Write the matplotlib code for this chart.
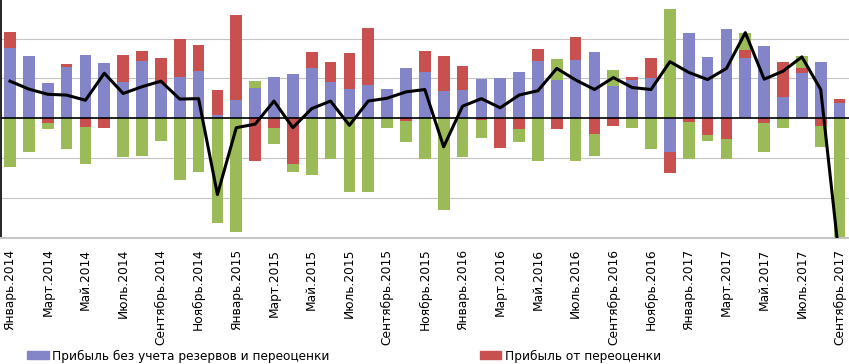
import numpy as np
import matplotlib.pyplot as plt
from matplotlib.patches import Patch

# Месяцы: январь 2014 - сентябрь 2017
months = ["Январь", "Февраль", "Март", "Апрель", "Май", "Июнь",
          "Июль", "Август", "Сентябрь", "Октябрь", "Ноябрь", "Декабрь"]
years = [2014, 2015, 2016, 2017]
n_months = 45

# Прибыль без учета резервов и переоценки
blue = [1.76, 1.57, 0.88, 1.29, 1.60, 1.38, 0.91, 1.44, 0.87, 1.04, 1.18, 0.08,
        0.45, 0.76, 1.04, 1.11, 1.27, 0.91, 0.73, 0.83, 0.73, 1.25, 1.17, 0.68,
        0.71, 0.98, 1.02, 1.17, 1.44, 0.97, 1.46, 1.67, 0.81, 0.96, 1.02, -0.85,
        2.13, 1.53, 2.24, 1.50, 1.81, 0.52, 1.13, 1.42, 0.37]

# Прибыль от переоценки
red = [0.40, 0.00, -0.11, 0.08, -0.22, -0.25, 0.69, 0.26, 0.64, 0.95, 0.65, 0.62,
       2.14, -1.07, -0.24, -1.16, 0.40, 0.50, 0.91, 1.43, 0.00, -0.08, 0.53, 0.89,
       0.59, -0.05, -0.75, -0.28, 0.29, -0.28, 0.57, -0.41, -0.19, 0.07, 0.50, -0.53,
       -0.09, -0.43, -0.53, 0.21, -0.12, 0.88, 0.13, -0.20, 0.11]

# Резервы
green = [-1.23, -0.85, -0.17, -0.78, -0.94, 0.00, -0.98, -0.95, -0.58, -1.56, -1.36, -2.63,
         -2.85, 0.17, -0.41, -0.20, -1.42, -1.02, -1.86, -1.86, -0.24, -0.53, -1.02, -2.32,
         -0.97, -0.46, 0.00, -0.33, -1.08, 0.51, -1.07, -0.54, 0.39, -0.25, -0.78, 2.75,
         -0.93, -0.15, -0.50, 0.42, -0.73, -0.24, 0.29, -0.52, -4.10]

# Итоговая прибыль (линия)
total = [0.93, 0.73, 0.60, 0.58, 0.45, 1.13, 0.62, 0.79, 0.93, 0.48, 0.49, -1.92,
         -0.24, -0.15, 0.43, -0.24, 0.24, 0.43, -0.18, 0.43, 0.50, 0.66, 0.72, -0.72,
         0.30, 0.49, 0.26, 0.58, 0.69, 1.25, 0.96, 0.72, 1.02, 0.77, 0.72, 1.42,
         1.15, 0.97, 1.25, 2.15, 0.98, 1.18, 1.54, 0.72, -3.60]

labels = [f"{months[i % 12]}.{years[i // 12]}" for i in range(n_months)]
colors = ["#8385C8", "#C8504E", "#9BBB59"]
legend_names = ["Прибыль без учета резервов и переоценки", "Прибыль от переоценки"]

fig = plt.figure(figsize=(8.49, 3.64), dpi=100)
ax = fig.add_axes([1 / 849, 1 - 237.5 / 364, 848 / 849, 237.5 / 364])

x = np.arange(n_months)
pos_bottom = np.zeros(n_months)
neg_bottom = np.zeros(n_months)
for vals, c in zip([blue, red, green], colors):
    v = np.array(vals)
    bottom = np.where(v >= 0, pos_bottom, neg_bottom)
    ax.bar(x, v, width=0.62, bottom=bottom, color=c, zorder=2)
    pos_bottom += np.clip(v, 0, None)
    neg_bottom += np.clip(v, None, 0)

ax.axhline(0, color="black", lw=1.2, zorder=3)
ax.plot(x, total, color="black", lw=2.2, zorder=4)

ax.set_xlim(-0.48, 44.5)
ax.set_ylim(-3.0, 2.97)
ax.set_yticks([-2, -1, 1, 2])
ax.yaxis.grid(True, color="#C4C4C4", lw=0.8, zorder=0)
ax.tick_params(axis="y", length=0, labelleft=False)
ax.set_xticks(x[::2])
ax.set_xticklabels(labels[::2], rotation=90, fontsize=8.8, va="top", ha="center")
ax.tick_params(axis="x", length=0, pad=8)

ax.spines["top"].set_visible(False)
ax.spines["right"].set_visible(False)
ax.spines["left"].set_color("black")
ax.spines["left"].set_linewidth(1.2)
ax.spines["bottom"].set_color("#C4C4C4")
ax.spines["bottom"].set_linewidth(1.5)

handles = [Patch(color=colors[0]), Patch(color=colors[1])]
fig.legend(handles, legend_names, loc="center left",
           bbox_to_anchor=(27 / 849, 1 - 356 / 364), ncol=2, frameon=False,
           fontsize=8.7, handlelength=1.8, handleheight=0.6, handletextpad=0.3,
           columnspacing=12.4, borderpad=0, borderaxespad=0)

fig.savefig("out.png", dpi=100)
